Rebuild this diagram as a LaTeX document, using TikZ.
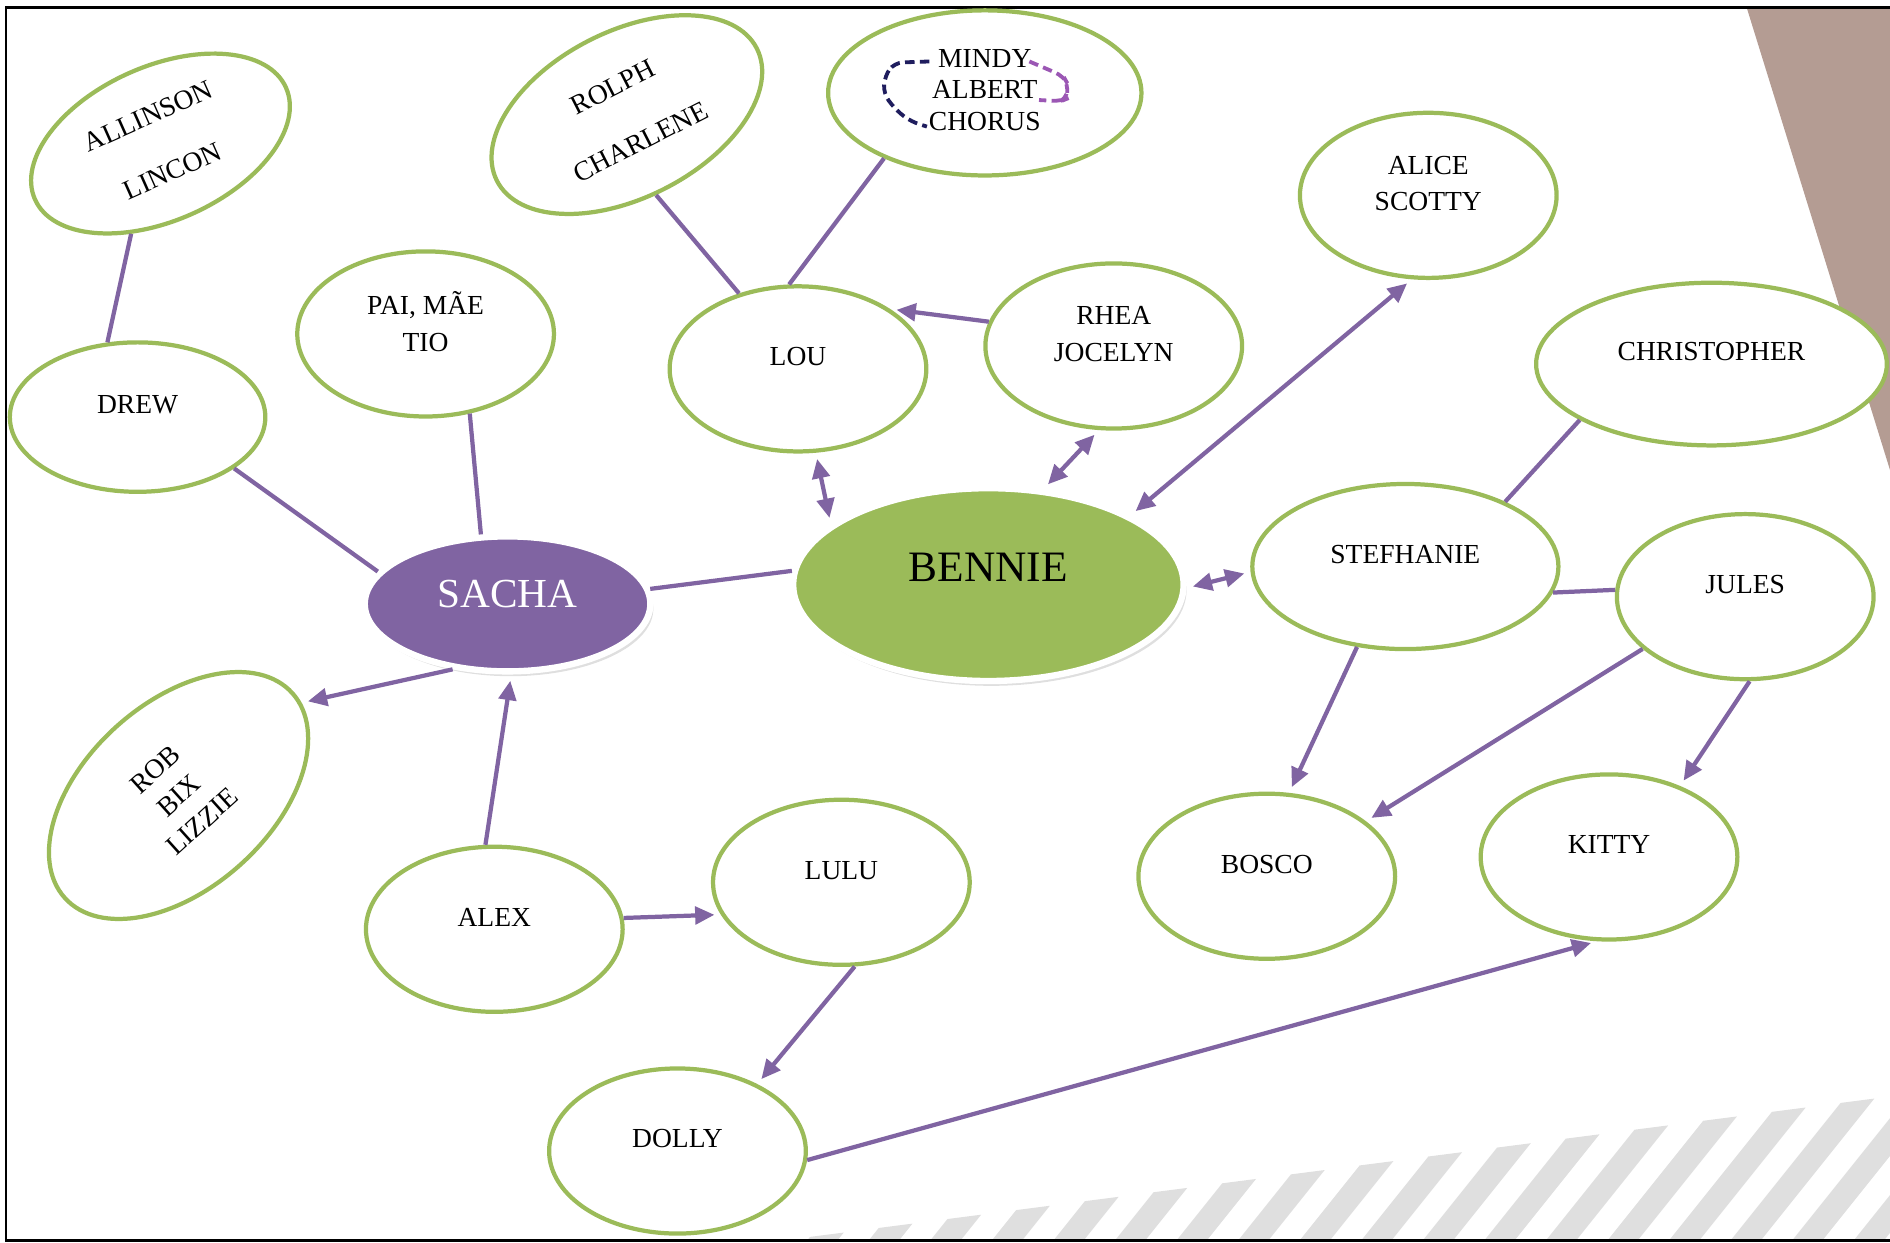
\documentclass[tikz,border=0pt]{standalone}
\usepackage{fontspec}
\setmainfont{Liberation Serif}
\usetikzlibrary{shapes.geometric,positioning,arrows.meta,shadows}

\definecolor{leaf}{HTML}{9BBB59}
\definecolor{plum}{HTML}{8064A2}
\definecolor{inkblue}{HTML}{1F1D5E}
\definecolor{orchid}{HTML}{9B57B4}
\definecolor{taupe}{HTML}{B49C93}
\definecolor{stripe}{HTML}{DFDFDF}

\tikzset{
  person/.style={ellipse, draw=leaf, line width=2pt, fill=white,
    minimum width=4.26cm, minimum height=2.74cm},
  hub/.style={ellipse, draw=white, line width=3pt,
    drop shadow={shadow xshift=0.5mm, shadow yshift=-0.8mm, opacity=0.25}},
  nametext/.style={yshift=2mm, align=center, font=\fontsize{13pt}{17.5pt}\selectfont},
  link/.style={color=plum, line width=2pt},
  dashmark/.style={line width=1.8pt, dash pattern=on 4.5pt off 2.5pt, rounded corners=4pt},
}

\begin{document}
\begin{tikzpicture}[x=0.02cm, y=-0.02cm, node distance=2cm, on grid,
    >={Triangle[length=3.2mm,width=2.9mm]}]
  \useasboundingbox (0,0) rectangle (1568,1030.4);
  % background: stripes, corner and frame
  \begin{scope}
    \clip (5,6) rectangle (1568,1029);
    \foreach \k in {-2,...,15} {
      \pgfmathsetmacro\xa{1527-57*\k}
      \pgfmathsetmacro\ya{915+0.13*57*\k}
      \fill[stripe] (\xa,\ya) -- ++(28,-3.6) -- ++(-112,140) -- ++(-28,3.6) -- cycle;
    }
  \end{scope}
  \fill[taupe] (1449,6) -- (1568,6) -- (1568,390) -- cycle;
  \draw[line width=1.2pt] (1568,6) -- (5,6) -- (5,1029) -- (1568,1029);

  % nodes
  \node[hub, fill=leaf, minimum width=6.48cm, minimum height=3.2cm,
    label={[nametext, yshift=0.8mm, font=\fontsize{20.5pt}{24pt}\selectfont]center:BENNIE}]
    (bennie) at (820,485) {};
  \node[hub, fill=plum, minimum width=4.74cm, minimum height=2.24cm,
    label={[nametext, yshift=-0.4mm, text=white, font=\fontsize{19.5pt}{23pt}\selectfont]center:SACHA}]
    (sacha) [below left=0.32cm and 7.98cm of bennie] {};

  \node[person, minimum width=4.24cm, minimum height=2.48cm, label={[nametext]center:DREW}]
    (drew) [above left=3.10cm and 6.14cm of sacha] {};
  \node[person, rotate=24, minimum width=4.56cm, minimum height=2.56cm,
    align=center, font=\fontsize{13pt}{28.5pt}\selectfont]
    (allinson) [above right=4.54cm and 0.38cm of drew] {ALLINSON\\LINCON};
  \node[person, label={[nametext]center:PAI, MÃE\\TIO}]
    (pai) [above left=4.48cm and 1.36cm of sacha] {};
  \node[person, rotate=42, minimum width=5.08cm, minimum height=3.08cm,
    align=center, font=\fontsize{13pt}{16.5pt}\selectfont]
    (rob) [below left=3.18cm and 5.46cm of sacha] {ROB\\BIX\\LIZZIE};
  \node[person, label={[nametext]center:ALEX}]
    (alex) [below left=5.40cm and 0.22cm of sacha] {};
  \node[person, label={[nametext]center:LULU}]
    (lulu) [above right=0.78cm and 5.76cm of alex] {};
  \node[person, label={[nametext]center:DOLLY}]
    (dolly) [below left=4.46cm and 2.72cm of lulu] {};

  \node[person, label={[nametext]center:LOU}]
    (lou) [above left=3.58cm and 3.16cm of bennie] {};
  \node[person, rotate=27, minimum width=4.84cm, minimum height=2.76cm,
    align=center, font=\fontsize{13pt}{29pt}\selectfont]
    (rolph) [above left=4.22cm and 2.84cm of lou] {ROLPH\\CHARLENE};
  \node[person, minimum width=5.20cm,
    label={[nametext, yshift=-1.5mm, font=\fontsize{13pt}{15pt}\selectfont]center:MINDY\\ALBERT\\CHORUS}]
    (mindy) [above right=4.58cm and 3.10cm of lou] {};
  \node[person, label={[nametext]center:RHEA\\JOCELYN}]
    (rhea) [above right=3.96cm and 2.08cm of bennie] {};
  \node[person, label={[nametext, font=\fontsize{13pt}{17pt}\selectfont]center:ALICE\\SCOTTY}]
    (alice) [above right=6.46cm and 7.30cm of bennie] {};

  \node[person, minimum width=5.08cm, label={[nametext]center:STEFHANIE}]
    (stef) [above right=0.30cm and 6.92cm of bennie] {};
  \node[person, minimum width=5.82cm, minimum height=2.70cm, label={[nametext]center:CHRISTOPHER}]
    (chris) [above right=3.36cm and 5.08cm of stef] {};
  \node[person, label={[nametext]center:JULES}]
    (jules) [below right=0.50cm and 5.64cm of stef] {};
  \node[person, label={[nametext]center:BOSCO}]
    (bosco) [below left=5.14cm and 2.30cm of stef] {};
  \node[person, label={[nametext]center:KITTY}]
    (kitty) [below left=4.32cm and 2.26cm of jules] {};

  % connectors
  \path[link]
    (drew.112) edge (allinson.228)
    (drew.332) edge (sacha.166)
    (pai.299) edge (sacha.111)
    (sacha.6) edge (bennie.176)
    (lou.128) edge (rolph.263)
    (lou.96) edge (mindy.213)
    (stef.33) edge (chris.203)
    (stef.350) edge (jules.177);
  \path[link, ->, shorten >=3pt]
    (sacha.230) edge (rob.355)
    (alex.96) edge (sacha.273)
    (alex.5) edge (lulu.195)
    (lulu.279) edge (dolly.40)
    (dolly.356) edge (kitty.262)
    (rhea.169) edge (lou.33)
    (stef.239) edge (bosco.75)
    (jules.207) edge (bosco.29)
    (jules.273) edge (kitty.45);
  \path[link, <->, shorten >=3pt, shorten <=3pt]
    (lou.282) edge (bennie.159)
    (rhea.260) edge (bennie.60)
    (alice.259) edge (bennie.26)
    (bennie.359) edge (stef.182);

  % dashed marks beside the names
  \draw[dashmark, inkblue] (771,51) -- (742,52) -- (734,63) -- (733,78) -- (744,92) -- (756,101) -- (769,105);
  \draw[dashmark, orchid] (854,51) -- (882,63) -- (886,70) -- (885,82) -- (880,84) -- (862,83);
\end{tikzpicture}
\end{document}
